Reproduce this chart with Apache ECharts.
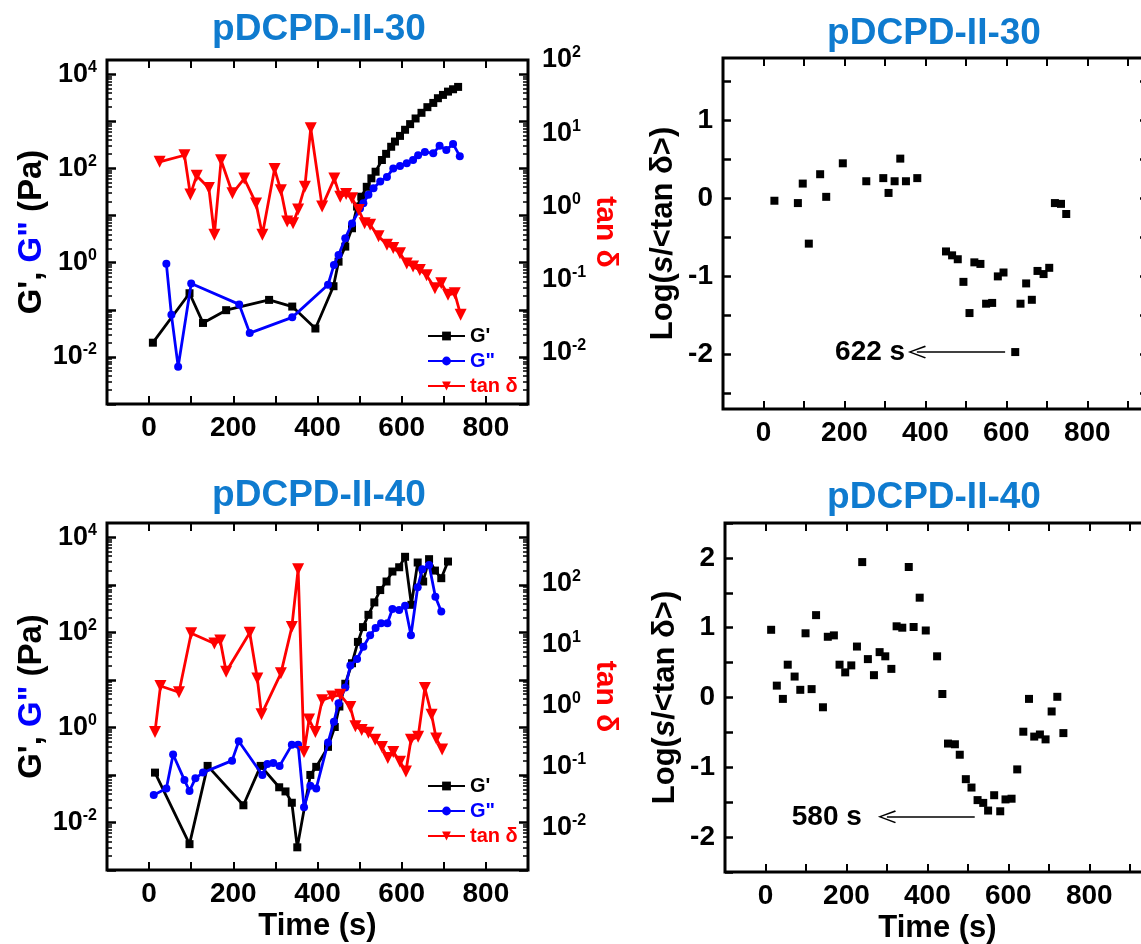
<!DOCTYPE html>
<html>
<head>
<meta charset="utf-8">
<script src="https://cdn.jsdelivr.net/npm/echarts@6/dist/echarts.min.js"></script>
<style>
  html, body { margin: 0; padding: 0; background: #ffffff; }
  #chart { width: 1141px; height: 944px; }
</style>
</head>
<body>
<div id="chart"></div>
<script>
// ---------------- data ----------------
const panelTitles = ['pDCPD-II-30', 'pDCPD-II-40'];
const xTickLabels = [0, 200, 400, 600, 800];

// pDCPD-II-30: storage modulus G' (Pa)
const t30_G1 = [9, 96, 128, 183, 285, 340, 395, 438, 450, 466, 482, 494, 504, 517, 528, 538, 553, 563, 575, 584, 596, 608, 620, 633, 647, 661, 675, 686, 698, 710, 722, 734];
const G1_30 = [0.020, 0.224, 0.0525, 0.098, 0.162, 0.117, 0.040, 0.316, 1.05, 2.19, 5.37, 15.5, 25.1, 40.7, 61.7, 85.1, 151, 204, 288, 372, 490, 661, 871, 1148, 1514, 1995, 2455, 3090, 3631, 4266, 4786, 5370];
// pDCPD-II-30: loss modulus G" (Pa)
const t30_G2 = [41, 53, 69, 100, 214, 239, 340, 425, 439, 450, 466, 482, 501, 509, 521, 533, 549, 565, 580, 596, 612, 627, 639, 655, 675, 690, 706, 722, 738];
const G2_30 = [0.95, 0.078, 0.0062, 0.36, 0.13, 0.032, 0.069, 0.34, 0.89, 1.45, 3.3, 6.8, 14.1, 18.2, 27.5, 38, 52.5, 66, 100, 112, 129, 151, 191, 224, 209, 302, 245, 331, 182];
// pDCPD-II-30: tan delta
const t30_tan = [25, 84, 98, 113, 142, 155, 171, 198, 226, 254, 269, 298, 313, 328, 342, 354, 370, 384, 411, 440, 454, 468, 482, 498, 512, 525, 545, 565, 580, 596, 612, 627, 643, 659, 679, 694, 710, 726, 740];
const tan_30 = [4.07, 5.0, 1.45, 2.63, 1.78, 0.41, 4.27, 1.51, 2.4, 1.10, 0.41, 3.24, 1.66, 0.62, 0.59, 0.91, 1.86, 11.7, 1.0, 2.4, 1.35, 1.48, 1.29, 0.89, 0.59, 0.56, 0.39, 0.30, 0.27, 0.23, 0.166, 0.151, 0.135, 0.115, 0.076, 0.089, 0.062, 0.065, 0.033];
// pDCPD-II-30: Log(s/<tan delta>)
const t30_s = [27, 85, 97, 112, 140, 155, 196, 254, 296, 309, 324, 338, 352, 380, 451, 466, 480, 494, 509, 521, 536, 550, 565, 579, 593, 622, 635, 649, 663, 677, 692, 706, 720, 735, 748];
const s_30 = [-0.03, -0.06, 0.19, -0.58, 0.31, 0.02, 0.45, 0.22, 0.26, 0.07, 0.22, 0.51, 0.22, 0.26, -0.68, -0.73, -0.78, -1.07, -1.47, -0.82, -0.84, -1.35, -1.34, -1.00, -0.95, -1.97, -1.35, -1.09, -1.30, -0.93, -0.97, -0.89, -0.06, -0.07, -0.20];

// pDCPD-II-40: storage modulus G' (Pa)
const t40_G1 = [14, 96, 139, 224, 265, 309, 324, 339, 352, 383, 397, 425, 441, 452, 466, 482, 496, 508, 521, 535, 549, 564, 578, 594, 608, 623, 638, 651, 665, 679, 694, 710];
const G1_40 = [0.112, 0.0035, 0.155, 0.023, 0.155, 0.055, 0.045, 0.026, 0.003, 0.1, 0.148, 0.39, 1.02, 2.75, 8.3, 22.4, 63, 129, 234, 427, 776, 1175, 1905, 2344, 3890, 380, 2951, 1175, 3467, 1995, 1380, 3090];
// pDCPD-II-40: loss modulus G" (Pa)
const t40_G2 = [11, 41, 57, 84, 96, 110, 128, 197, 213, 269, 281, 295, 310, 339, 354, 368, 383, 397, 425, 439, 450, 466, 478, 494, 509, 525, 538, 551, 566, 578, 594, 608, 622, 638, 649, 665, 680, 694];
const G2_40 = [0.038, 0.052, 0.27, 0.078, 0.046, 0.085, 0.112, 0.2, 0.51, 0.1, 0.17, 0.178, 0.155, 0.43, 0.43, 0.021, 0.059, 0.052, 0.48, 1.32, 3.24, 6.9, 20, 27.5, 50, 87, 123, 155, 155, 309, 295, 363, 87, 891, 2138, 2630, 562, 275];
// pDCPD-II-40: tan delta
const t40_tan = [14, 27, 71, 100, 155, 169, 183, 239, 257, 267, 313, 339, 354, 368, 380, 395, 411, 435, 454, 478, 490, 505, 521, 537, 553, 567, 580, 596, 610, 622, 639, 655, 671, 682, 696];
const tan_40 = [0.37, 2.1, 1.66, 15.5, 10.5, 11.7, 3.6, 15.8, 2.8, 0.72, 3.4, 19.5, 174, 0.174, 0.59, 0.37, 1.23, 1.41, 1.51, 0.95, 0.46, 0.40, 0.36, 0.275, 0.21, 0.138, 0.174, 0.12, 0.083, 0.275, 0.31, 1.95, 0.71, 0.29, 0.19];
// pDCPD-II-40: Log(s/<tan delta>)
const t40_s = [14, 28, 43, 55, 72, 86, 99, 114, 125, 142, 154, 169, 183, 197, 212, 226, 239, 253, 268, 282, 296, 311, 324, 338, 354, 366, 381, 396, 424, 437, 451, 468, 480, 495, 509, 524, 538, 550, 565, 580, 593, 608, 622, 637, 651, 664, 678, 692, 707, 721, 736];
const s_40 = [0.97, 0.17, -0.02, 0.47, 0.30, 0.11, 0.92, 0.12, 1.18, -0.14, 0.87, 0.89, 0.47, 0.36, 0.46, 0.73, 1.94, 0.55, 0.32, 0.65, 0.59, 0.41, 1.02, 1.00, 1.87, 1.01, 1.43, 0.96, 0.59, 0.05, -0.66, -0.67, -0.82, -1.17, -1.29, -1.47, -1.51, -1.62, -1.40, -1.63, -1.46, -1.45, -1.03, -0.49, -0.02, -0.56, -0.53, -0.60, -0.20, 0.01, -0.51];

// gel-point annotations: [label, arrow start time, arrow end time, label time, level]
const gel30 = ['622 s', 597, 379, 350, -1.97];
const gel40 = ['580 s', 517, 300, 238, -1.71];

// tick label positions
const gTickLabels = [1e-2, 1, 1e2, 1e4];
const tanTickLabels = [1e-2, 1e-1, 1, 1e1, 1e2];
const sTickLabels30 = [-2, -1, 0, 1];
const sTickLabels40 = [-2, -1, 0, 1, 2];

// ---------------- helpers ----------------
const FONT = '"Liberation Sans", Arial, Helvetica, sans-serif';
const BLUE_TITLE = '#0f7bcf';
const zip = (xs, ys) => xs.map((x, i) => [x, ys[i]]);

const decades = [];
const minors = [];
for (let e = -3; e <= 4; e++) {
  decades.push(Math.pow(10, e));
  if (e < 4) for (let k = 2; k <= 9; k++) minors.push(k * Math.pow(10, e));
}
minors.push(2e4);

const powRich = {
  b: { fontSize: 27, fontWeight: 'bold', fontFamily: FONT, color: '#000', lineHeight: 30 },
  s: { fontSize: 16, fontWeight: 'bold', fontFamily: FONT, color: '#000', lineHeight: 14, verticalAlign: 'top' }
};
const powLabel = v => '{b|10}{s|' + Math.round(Math.log10(v)) + '}';
const boldText = (size, color) => ({ fontSize: size, fontWeight: 'bold', fontFamily: FONT, color: color || '#000' });
const noLine = { show: false, onZero: false };

function xPair(gi, max, withName) {
  const base = {
    type: 'value', gridIndex: gi, min: -100, max: max, interval: 100,
    splitLine: { show: false }, axisLine: noLine
  };
  return [
    Object.assign({}, base, {
      position: 'bottom',
      axisTick: { inside: true, length: 8, lineStyle: { color: '#000', width: 2 } },
      axisLabel: Object.assign(boldText(28), { margin: 10, formatter: v => (xTickLabels.indexOf(v) >= 0 ? String(v) : '') }),
      name: withName ? 'Time (s)' : '', nameLocation: 'middle', nameGap: 41,
      nameTextStyle: boldText(31)
    }),
    Object.assign({}, base, {
      position: 'top',
      axisTick: { inside: true, length: 8, lineStyle: { color: '#000', width: 2 } },
      axisLabel: { show: false }
    })
  ];
}

function gAxes(gi, tanMax) {
  const base = {
    type: 'log', logBase: 10, gridIndex: gi, min: 1e-3, max: 2e4,
    splitLine: { show: false }, axisLine: noLine
  };
  const major = { inside: true, length: 9, customValues: decades, lineStyle: { color: '#000', width: 2.5 } };
  const minor = { inside: true, length: 5, customValues: minors, lineStyle: { color: '#000', width: 1.5 } };
  return [
    Object.assign({}, base, {
      position: 'left', axisTick: major,
      axisLabel: { customValues: gTickLabels, formatter: powLabel, rich: powRich, margin: 10 },
      name: "{k|G', }{c|G\"}{k| (Pa)}", nameLocation: 'middle', nameRotate: 90, nameGap: 59,
      nameTextStyle: { rich: { k: boldText(33), c: boldText(33, '#0000ff') } }
    }),
    Object.assign({}, base, { position: 'left', axisTick: minor, axisLabel: { show: false } }),
    Object.assign({}, base, { position: 'right', axisTick: major, axisLabel: { show: false } }),
    Object.assign({}, base, { position: 'right', axisTick: minor, axisLabel: { show: false } }),
    {
      type: 'log', logBase: 10, gridIndex: gi, position: 'right', min: 0.002, max: tanMax,
      splitLine: { show: false }, axisLine: noLine, axisTick: { show: false },
      axisLabel: { customValues: tanTickLabels, formatter: powLabel, rich: powRich, margin: 14 },
      name: 'tan δ', nameLocation: 'middle', nameRotate: -90, nameGap: 61,
      nameTextStyle: boldText(30, '#ff0000')
    }
  ];
}

function sAxes(gi, min, max, labels) {
  const ticks = [];
  for (let v = Math.ceil(min * 2) / 2; v <= max + 1e-9; v += 0.5) ticks.push(Math.round(v * 10) / 10);
  const base = {
    type: 'value', gridIndex: gi, min: min, max: max,
    splitLine: { show: false }, axisLine: noLine,
    axisTick: { inside: true, length: 8, customValues: ticks, lineStyle: { color: '#000', width: 2.5 } }
  };
  return [
    Object.assign({}, base, {
      position: 'left',
      axisLabel: Object.assign(boldText(28), { customValues: labels, margin: 10 }),
      name: '{k|Log(}{i|s}{k|/<tan δ>)}', nameLocation: 'middle', nameRotate: 90, nameGap: 44,
      nameTextStyle: { rich: { k: boldText(31), i: Object.assign(boldText(31), { fontStyle: 'italic' }) } }
    }),
    Object.assign({}, base, { position: 'right', axisLabel: { show: false } })
  ];
}

function rheoSeries(xi, yG, yTan, g1x, g1y, g2x, g2y, tx, ty) {
  return [
    { name: "G'", type: 'line', xAxisIndex: xi, yAxisIndex: yG, data: zip(g1x, g1y),
      symbol: 'rect', symbolSize: 8, showAllSymbol: true,
      lineStyle: { color: '#000', width: 2.8 }, itemStyle: { color: '#000', opacity: 1 }, z: 3 },
    { name: 'G"', type: 'line', xAxisIndex: xi, yAxisIndex: yG, data: zip(g2x, g2y),
      symbol: 'circle', symbolSize: 8, showAllSymbol: true,
      lineStyle: { color: '#0000ff', width: 2.8 }, itemStyle: { color: '#0000ff', opacity: 1 }, z: 4 },
    { name: 'tan δ', type: 'line', xAxisIndex: xi, yAxisIndex: yTan, data: zip(tx, ty),
      symbol: 'triangle', symbolRotate: 180, symbolSize: 12, showAllSymbol: true,
      lineStyle: { color: '#ff0000', width: 2.8 }, itemStyle: { color: '#ff0000', opacity: 1 }, z: 5 }
  ];
}

const ARROW = 'path://M5,0 L10,12 L8.9,12.6 L5,2.6 L1.1,12.6 L0,12 Z';

function scatterSeries(xi, yi, xs, ys, gel) {
  return {
    type: 'scatter', xAxisIndex: xi, yAxisIndex: yi, data: zip(xs, ys),
    symbol: 'rect', symbolSize: 8, itemStyle: { color: '#000', opacity: 1 },
    markLine: {
      silent: true, animation: false, symbol: ['none', ARROW], symbolSize: [13, 18],
      lineStyle: { color: '#000', width: 1.5, type: 'solid' }, label: { show: false },
      data: [[{ coord: [gel[1], gel[4]] }, { coord: [gel[2], gel[4]] }]]
    },
    markPoint: {
      silent: true, animation: false, symbol: 'rect', symbolSize: 0,
      itemStyle: { color: 'transparent' },
      label: Object.assign(boldText(28), { show: true, position: 'left', distance: 0, formatter: gel[0] }),
      data: [{ coord: [gel[3], gel[4]] }]
    }
  };
}

const legendData = [
  { name: "G'", textStyle: { color: '#000' } },
  { name: 'G"', textStyle: { color: '#0000ff' } },
  { name: 'tan δ', textStyle: { color: '#ff0000' } }
];
const legendBase = {
  data: legendData, orient: 'vertical', left: 427, itemWidth: 37, itemHeight: 11, itemGap: 5,
  padding: 0, selectedMode: false, textStyle: boldText(20)
};

const gridBase = { show: true, borderColor: '#000', borderWidth: 3, backgroundColor: 'transparent', containLabel: false, outerBoundsMode: 'none' };

const titleStyle = { fontSize: 37, fontWeight: 'bold', fontFamily: FONT, color: BLUE_TITLE };

const option = {
  animation: false,
  backgroundColor: '#ffffff',
  title: [
    { text: panelTitles[0], left: 319, top: 11, textAlign: 'center', padding: 0, textStyle: titleStyle },
    { text: panelTitles[0], left: 934, top: 15, textAlign: 'center', padding: 0, textStyle: titleStyle },
    { text: panelTitles[1], left: 319, top: 477, textAlign: 'center', padding: 0, textStyle: titleStyle },
    { text: panelTitles[1], left: 934, top: 479, textAlign: 'center', padding: 0, textStyle: titleStyle }
  ],
  legend: [
    Object.assign({}, legendBase, { top: 326 }),
    Object.assign({}, legendBase, { top: 776 })
  ],
  grid: [
    Object.assign({}, gridBase, { left: 107, top: 60, width: 421, height: 344 }),
    Object.assign({}, gridBase, { left: 107, top: 523, width: 421, height: 347 }),
    Object.assign({}, gridBase, { left: 723, top: 58, width: 425, height: 351 }),
    Object.assign({}, gridBase, { left: 725, top: 523, width: 425, height: 349 })
  ],
  xAxis: [].concat(
    xPair(0, 900, false),
    xPair(1, 900, true),
    xPair(2, 950, false),
    xPair(3, 950, true)
  ),
  yAxis: [].concat(
    gAxes(0, 100),
    gAxes(1, 1000),
    sAxes(2, -2.7, 1.8, sTickLabels30),
    sAxes(3, -2.5, 2.5, sTickLabels40)
  ),
  series: [].concat(
    rheoSeries(0, 0, 4, t30_G1, G1_30, t30_G2, G2_30, t30_tan, tan_30),
    rheoSeries(2, 5, 9, t40_G1, G1_40, t40_G2, G2_40, t40_tan, tan_40),
    [scatterSeries(4, 10, t30_s, s_30, gel30), scatterSeries(6, 12, t40_s, s_40, gel40)]
  )
};

const chart = echarts.init(document.getElementById('chart'), null, { renderer: 'canvas', devicePixelRatio: 1 });
chart.setOption(option);
</script>
</body>
</html>
